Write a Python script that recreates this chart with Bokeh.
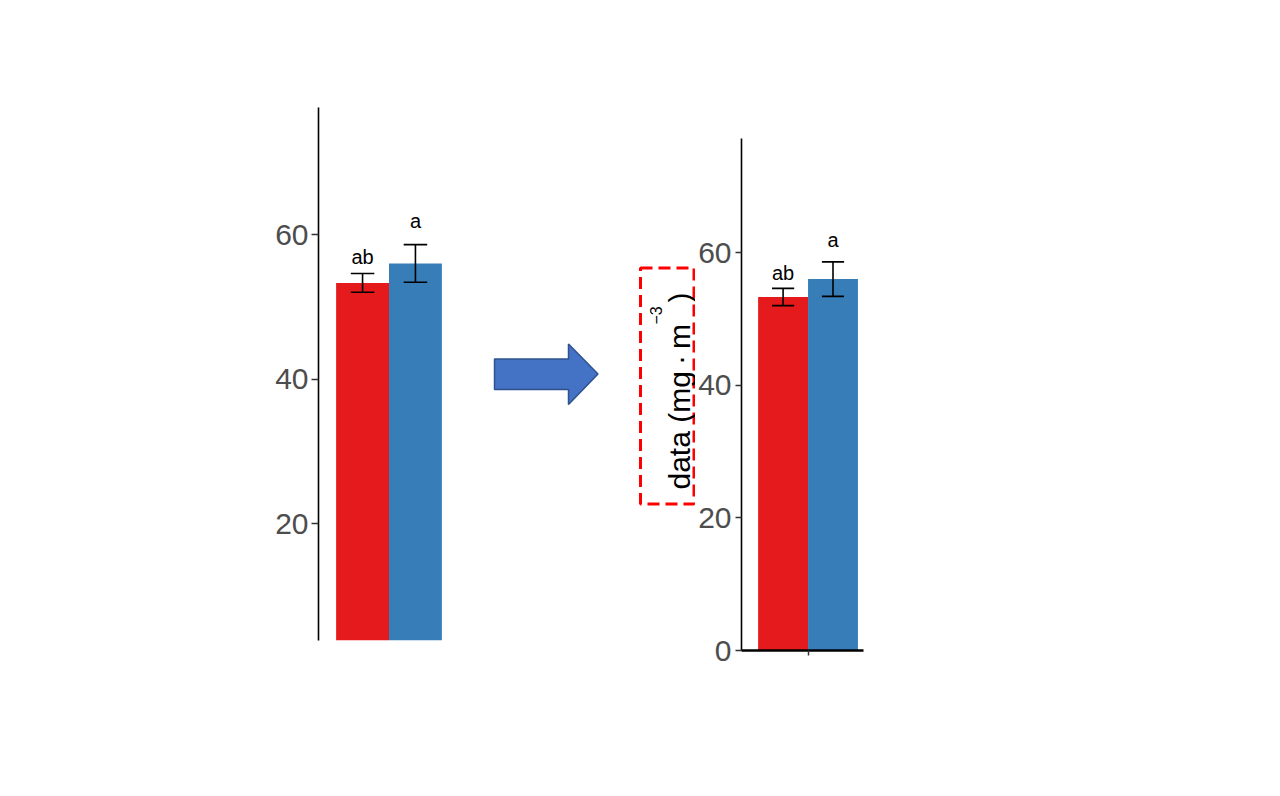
import numpy as np
from bokeh.plotting import figure
from bokeh.layouts import row
from bokeh.models import Range1d, FixedTicker, ColumnDataSource
from bokeh.core.properties import value
from bokeh.embed import file_html
from bokeh.resources import INLINE

# ---------------- data ----------------
treatments = ["T1", "T2"]
means = [53.3, 56.0]
errors = [1.3, 2.6]
letters = ["ab", "a"]
letter_y = [56.9, 61.9]
colors = ["#E41A1C", "#377EB8"]
y_ticks_left = [20, 40, 60]
y_ticks_right = [0, 20, 40, 60]

# y-axis title pieces (plotmath style: data (mg·m^-3))
title_main = "data (mg\u2009·\u2009m"
title_sup = "\u22123"
title_close = ")"

# decoration shapes (page pixel coordinates) for the arrow and dashed box
arrow_x = [494, 568, 568, 597.5, 568, 568, 494]
arrow_y = [358.5, 358.5, 343.5, 373.5, 404, 389, 389]
box_lrtb = [640, 693.5, 267.5, 503.5]

FONT = "Liberation Sans"

# dodge positions
dodge_width = 0.9
n = len(treatments)
bar_w = dodge_width / n
xs = [1 - dodge_width / 2 + bar_w * (i + 0.5) for i in range(n)]
cap_w = 0.2


def new_fig(**kw):
    p = figure(output_backend="svg", toolbar_location=None, **kw)
    try:
        p.frame_align = False
    except Exception:
        pass
    return p


def bar_chart(width, height, x_end, y_start, y_end, ticks,
              b_left, b_right, b_top, b_bottom, show_x, tick_out, standoff):
    p = new_fig(width=width, height=height,
                x_range=Range1d(0.4, x_end), y_range=Range1d(y_start, y_end),
                min_border_left=b_left, min_border_right=b_right,
                min_border_top=b_top, min_border_bottom=b_bottom)
    src = ColumnDataSource(dict(
        x=xs, top=means, color=colors,
        lo=[m - e for m, e in zip(means, errors)],
        hi=[m + e for m, e in zip(means, errors)],
        cl=[x - cap_w / 2 for x in xs],
        cr=[x + cap_w / 2 for x in xs],
        ly=letter_y, txt=letters))
    p.vbar(x="x", top="top", bottom=0, width=bar_w, fill_color="color",
           line_color=None, source=src)
    p.segment(x0="x", y0="lo", x1="x", y1="hi", line_color="black",
              line_width=1.6, source=src)
    p.segment(x0="cl", y0="lo", x1="cr", y1="lo", line_color="black",
              line_width=1.6, source=src)
    p.segment(x0="cl", y0="hi", x1="cr", y1="hi", line_color="black",
              line_width=1.6, source=src)
    p.text(x="x", y="ly", text="txt", text_align="center",
           text_baseline="alphabetic", text_font=value(FONT),
           text_font_size="20px", text_color="black", source=src)
    p.grid.visible = False
    p.outline_line_color = None
    p.background_fill_color = None
    p.border_fill_color = None

    ya = p.yaxis[0]
    ya.ticker = FixedTicker(ticks=ticks)
    ya.axis_line_color = "black"
    ya.axis_line_width = 1.6
    ya.major_tick_line_color = "#333333"
    ya.major_tick_line_width = 1.5
    ya.major_tick_out = tick_out
    ya.major_tick_in = 0
    ya.minor_tick_line_color = None
    ya.major_label_text_font = FONT
    ya.major_label_text_font_size = "30px"
    ya.major_label_text_color = "#4D4D4D"
    ya.major_label_standoff = standoff

    xa = p.xaxis[0]
    if show_x:
        xa.ticker = FixedTicker(ticks=[1])
        xa.axis_line_color = "black"
        xa.axis_line_width = 2.6
        xa.major_tick_line_color = "#333333"
        xa.major_tick_line_width = 1.5
        xa.major_tick_out = 5
        xa.major_tick_in = 0
        xa.minor_tick_line_color = None
        xa.major_label_overrides = {1: ""}
        xa.major_label_text_font_size = "0px"
        xa.major_label_standoff = 0
    else:
        xa.visible = False
    return p


# left chart: canvas page x 0..470, y 0..708
left = bar_chart(470, 708, 1.6, 3.81, 77.58, y_ticks_left,
                 318, 11, 107, 68, False, 7, 3)

# middle: arrow + dashed title box, canvas page x 470..695
mid = new_fig(width=225, height=708, x_range=Range1d(470, 695),
              y_range=Range1d(708, 0), x_axis_type=None, y_axis_type=None,
              min_border_left=0, min_border_right=0,
              min_border_top=0, min_border_bottom=0)
mid.grid.visible = False
mid.outline_line_color = None
mid.patch(arrow_x, arrow_y, fill_color="#4472C4", line_color="#2F528F",
          line_width=1.5)
mid.quad(left=[box_lrtb[0]], right=[box_lrtb[1]], top=[box_lrtb[2]],
         bottom=[box_lrtb[3]], fill_color=None, line_color="#FF0000",
         line_width=3, line_dash="12 6")
ang = np.pi / 2
common = dict(angle=ang, text_align="left", text_baseline="alphabetic",
              text_font=value(FONT), text_color="black")
mid.text(x=[679], y=[489], text=[title_main], text_font_size="30px", **common)
mid.text(x=[655], y=[324], text=[title_sup], text_font_size="16px", **common)
mid.text(x=[679], y=[302], text=[title_close], text_font_size="30px", **common)

# right chart: canvas page x 695..870, y 0..688
right = bar_chart(175, 688, 1.5, 0, 77.2, y_ticks_right,
                  46, 7, 138, 38, True, 6, 4)

layout = row(left, mid, right)
open("out.html", "w").write(file_html(layout, INLINE))
